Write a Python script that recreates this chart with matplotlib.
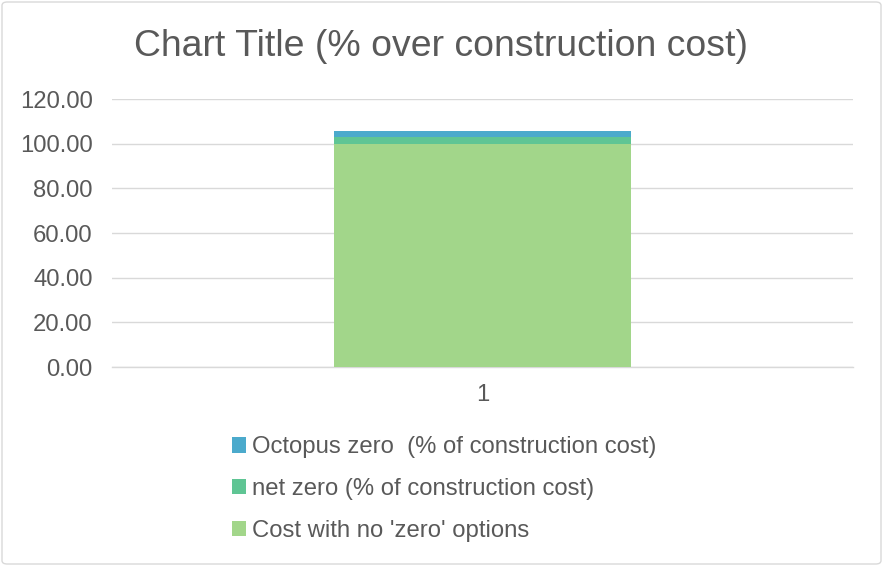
import matplotlib
matplotlib.use("Agg")
import matplotlib.pyplot as plt
from matplotlib.patches import FancyBboxPatch

plt.rcParams['font.family'] = ['Liberation Sans', 'DejaVu Sans']

categories = ["1"]
cost_no_zero = [100.0]
net_zero = [2.9]
octopus_zero = [2.7]
series_names = ["Cost with no 'zero' options",
                "net zero (% of construction cost)",
                "Octopus zero  (% of construction cost)"]
colors = ["#A2D68A", "#5FC594", "#4BAACC"]
yticks = [0, 20, 40, 60, 80, 100, 120]

W, H = 883, 566
fig = plt.figure(figsize=(W / 100, H / 100), dpi=100)
fig.patch.set_facecolor("white")

# chart border
border = FancyBboxPatch((2 / W, 2 / H), 1 - 4 / W, 1 - 4 / H,
                        boxstyle="round,pad=0,rounding_size=0.006",
                        transform=fig.transFigure, fill=False,
                        edgecolor="#D9D9D9", linewidth=1.0)
fig.patches.append(border)

left, right = 112 / W, 853 / W
bottom, top = 1 - 367 / H, 1 - 99 / H
ax = fig.add_axes([left, bottom, right - left, top - bottom])

x = list(range(len(categories)))
bw = 0.4
ax.bar(x, cost_no_zero, bw, color=colors[0], label=series_names[0], zorder=3)
b1 = [c for c in cost_no_zero]
ax.bar(x, net_zero, bw, bottom=b1, color=colors[1], label=series_names[1], zorder=3)
b2 = [c + n for c, n in zip(cost_no_zero, net_zero)]
ax.bar(x, octopus_zero, bw, bottom=b2, color=colors[2], label=series_names[2], zorder=3)

ax.set_xlim(-0.5, len(categories) - 0.5)
ax.set_ylim(0, 120)
ax.set_yticks(yticks)
ax.set_yticklabels([f"{v:.2f}" for v in yticks])
ax.set_xticks(x)
ax.set_xticklabels(categories)
ax.yaxis.grid(True, color="#D9D9D9", linewidth=1.0, zorder=0)
ax.set_axisbelow(True)
for s in ["top", "right", "left"]:
    ax.spines[s].set_visible(False)
ax.spines["bottom"].set_color("#D9D9D9")
ax.spines["bottom"].set_linewidth(1.0)
ax.tick_params(axis="both", length=0, labelsize=17.2, labelcolor="#595959")
ax.tick_params(axis="y", pad=14)
ax.tick_params(axis="x", pad=12)

fig.text(0.5, 1 - 46 / H, "Chart Title (% over construction cost)",
         ha="center", va="center", fontsize=26.9, color="#595959")

handles, labels = ax.get_legend_handles_labels()
leg = fig.legend(handles[::-1], labels[::-1], loc="center",
                 bbox_to_anchor=(0.5 + 3 / W, 1 - 489 / H), frameon=False,
                 fontsize=17.2, labelcolor="#595959", handlelength=0.6,
                 handleheight=0.6, handletextpad=0.25, labelspacing=0.82)

fig.savefig("out.png", dpi=100)
